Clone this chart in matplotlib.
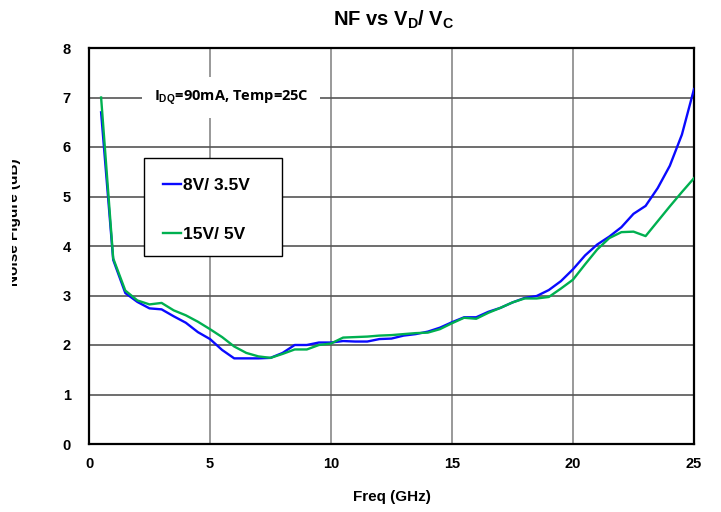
import matplotlib
matplotlib.use('Agg')
import matplotlib.pyplot as plt
from matplotlib.patches import Rectangle
from matplotlib.transforms import Bbox

plt.rcParams['font.family'] = ['Liberation Sans', 'DejaVu Sans']
plt.rcParams['font.weight'] = 'bold'
plt.rcParams['mathtext.fontset'] = 'custom'
plt.rcParams['mathtext.rm'] = 'Liberation Sans:bold'
plt.rcParams['mathtext.bf'] = 'Liberation Sans:bold'

# frequency points (GHz)
freq = [0.5, 1.0, 1.5, 2.0, 2.5, 3.0, 3.5, 4.0, 4.5, 5.0,
        5.5, 6.0, 6.5, 7.0, 7.5, 8.0, 8.5, 9.0, 9.5, 10.0,
        10.5, 11.0, 11.5, 12.0, 12.5, 13.0, 13.5, 14.0, 14.5, 15.0,
        15.5, 16.0, 16.5, 17.0, 17.5, 18.0, 18.5, 19.0, 19.5, 20.0,
        20.5, 21.0, 21.5, 22.0, 22.5, 23.0, 23.5, 24.0, 24.5, 25.0]

# noise figure (dB), VD/VC = 8V / 3.5V
nf_8v = [6.70, 3.72, 3.05, 2.87, 2.74, 2.72, 2.58, 2.45, 2.26, 2.12,
         1.90, 1.73, 1.73, 1.73, 1.74, 1.84, 2.00, 2.00, 2.05, 2.05,
         2.08, 2.07, 2.07, 2.12, 2.13, 2.19, 2.22, 2.27, 2.35, 2.46,
         2.56, 2.56, 2.67, 2.75, 2.86, 2.95, 2.99, 3.11, 3.29, 3.53,
         3.81, 4.03, 4.19, 4.38, 4.65, 4.81, 5.17, 5.62, 6.25, 7.17]

# noise figure (dB), VD/VC = 15V / 5V
nf_15v = [7.00, 3.75, 3.10, 2.90, 2.82, 2.85, 2.70, 2.60, 2.47, 2.32,
          2.16, 1.97, 1.84, 1.77, 1.74, 1.82, 1.91, 1.91, 2.00, 2.03,
          2.15, 2.16, 2.17, 2.19, 2.20, 2.22, 2.24, 2.25, 2.32, 2.44,
          2.55, 2.53, 2.65, 2.75, 2.86, 2.94, 2.94, 2.97, 3.14, 3.32,
          3.63, 3.93, 4.16, 4.28, 4.29, 4.20, 4.50, 4.80, 5.09, 5.37]

x_ticks = [0, 5, 10, 15, 20, 25]
y_ticks = [0, 1, 2, 3, 4, 5, 6, 7, 8]

fig = plt.figure(figsize=(7.21, 5.12), dpi=100)
ax = fig.add_axes([89 / 721, 68 / 512, 605 / 721, 396 / 512])

ax.plot(freq, nf_8v, color='#0a0aff', lw=1.7, label='8V/ 3.5V', zorder=3)
ax.plot(freq, nf_15v, color='#00b050', lw=1.7, label='15V/ 5V', zorder=3)

ax.set_xlim(0, 25)
ax.set_ylim(0, 8)
ax.set_xticks(x_ticks)
ax.set_yticks(y_ticks)
ax.tick_params(length=0, labelsize=10.5)
ax.tick_params(axis='x', pad=9)
ax.tick_params(axis='y', pad=13)
ax.yaxis.grid(True, color='#555555', lw=1.2)
ax.xaxis.grid(True, color='#888888', lw=1.2)
ax.set_axisbelow(True)
for sp in ax.spines.values():
    sp.set_linewidth(1.6)
    sp.set_color('black')

ax.set_xlabel('Freq (GHz)', fontsize=11, fontweight='bold', labelpad=14)

# y label is cut off on the left in the original
ylab = fig.text(14 / 721, 1 - 222 / 512, 'Noise Figure (dB)', rotation=90,
                ha='center', va='center', fontsize=11, fontweight='bold')
ylab.set_clip_box(Bbox.from_extents(12, 0, 721, 512))
ylab.set_clip_on(True)

fig.text(394 / 721, 1 - 20 / 512, r'NF vs V$_\mathrm{D}$/ V$_\mathrm{C}$',
         ha='center', va='center', fontsize=14.5, fontweight='bold')

ax.text(0.107, 0.875, r'I$_\mathrm{DQ}$=90mA, Temp=25C', transform=ax.transAxes,
        fontsize=10.5, fontweight='bold', family=['Open Sans', 'DejaVu Sans'],
        ha='left', va='center',
        bbox=dict(boxstyle='square,pad=0.8', facecolor='white', edgecolor='none'))

# legend box drawn separately so its size matches
ax.add_patch(Rectangle((0.091, 0.475), 0.228, 0.247, transform=ax.transAxes,
                       facecolor='white', edgecolor='black', lw=1.0, zorder=4))
leg = ax.legend(loc='upper left', bbox_to_anchor=(0.123, 0.672), borderaxespad=0,
                frameon=False, fontsize=12.5, handlelength=1.0, handletextpad=0.1,
                labelspacing=1.95, borderpad=0)
leg.set_zorder(5)

plt.savefig('out.png', dpi=100)
